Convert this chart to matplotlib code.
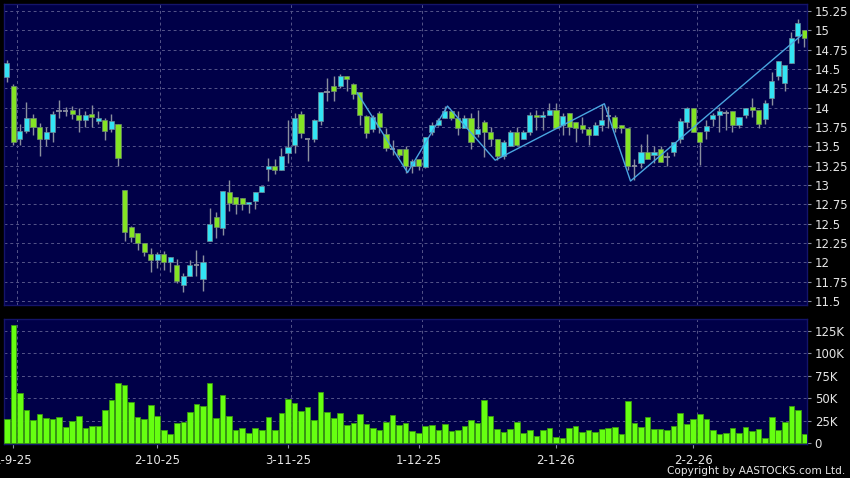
import numpy as np
import matplotlib
matplotlib.use("Agg")
import matplotlib.pyplot as plt

# daily OHLC, one entry per trading day (index 0 = 29-8-25)
opens = [14.40, 14.28, 13.59, 13.70, 13.86, 13.75, 13.60, 13.68, 13.96, 13.96,
         13.97, 13.90, 13.84, 13.92, 13.83, 13.84, 13.72, 13.79, 12.94, 12.46,
         12.38, 12.25, 12.11, 12.03, 12.11, 12.00, 11.97, 11.71, 11.82, 11.96,
         11.78, 12.27, 12.59, 12.44, 12.91, 12.84, 12.83, 12.75, 12.79, 12.91,
         13.21, 13.25, 13.19, 13.41, 13.52, 13.92, 13.60, 13.59, 13.83, 14.20,
         14.28, 14.28, 14.41, 14.31, 14.20, 13.89, 13.72, 13.93, 13.66, 13.47,
         13.47, 13.47, 13.25, 13.33, 13.23, 13.69, 13.77, 13.87, 13.96, 13.87,
         13.74, 13.87, 13.66, 13.81, 13.68, 13.60, 13.38, 13.50, 13.69, 13.60,
         13.69, 13.91, 13.88, 13.91, 13.97, 13.77, 13.93, 13.82, 13.78, 13.72,
         13.65, 13.77, 13.89, 13.88, 13.78, 13.74, 13.24, 13.28, 13.42, 13.39,
         13.47, 13.36, 13.43, 13.60, 13.81, 13.99, 13.69, 13.70, 13.85, 13.91,
         13.93, 13.96, 13.78, 13.91, 14.01, 13.97, 13.85, 14.13, 14.41, 14.32,
         14.58, 14.92, 15.00]
highs = [14.62, 14.30, 13.79, 14.07, 13.92, 13.80, 13.75, 13.96, 14.10, 14.01,
         14.02, 14.00, 13.95, 14.03, 13.96, 13.87, 13.92, 13.79, 12.94, 12.47,
         12.38, 12.25, 12.19, 12.13, 12.14, 12.07, 12.04, 11.86, 12.03, 12.16,
         12.09, 12.70, 12.65, 12.92, 13.07, 12.84, 12.83, 12.78, 12.91, 12.99,
         13.35, 13.33, 13.48, 13.84, 13.93, 13.96, 13.60, 13.85, 14.20, 14.38,
         14.41, 14.44, 14.41, 14.32, 14.20, 13.91, 13.91, 13.96, 13.74, 13.58,
         13.47, 13.50, 13.33, 13.33, 13.62, 13.82, 13.87, 14.02, 13.96, 13.95,
         13.90, 13.93, 13.97, 13.84, 13.75, 13.60, 13.58, 13.71, 13.75, 13.71,
         13.94, 13.97, 13.95, 14.06, 14.06, 13.93, 13.93, 13.82, 13.88, 13.75,
         13.82, 14.05, 14.02, 13.91, 13.78, 13.74, 13.34, 13.53, 13.66, 13.50,
         13.50, 13.43, 13.56, 13.87, 14.01, 14.00, 13.69, 13.84, 13.93, 14.01,
         13.97, 13.96, 13.88, 14.00, 14.13, 13.97, 14.10, 14.46, 14.60, 14.55,
         14.98, 15.14, 15.00]
lows = [14.33, 13.51, 13.51, 13.67, 13.64, 13.38, 13.50, 13.56, 13.86, 13.89,
        13.85, 13.68, 13.75, 13.75, 13.79, 13.58, 13.69, 13.24, 12.28, 12.26,
        12.16, 12.08, 11.88, 11.93, 11.90, 11.88, 11.73, 11.61, 11.82, 11.82,
        11.63, 12.27, 12.32, 12.35, 12.66, 12.63, 12.68, 12.64, 12.69, 12.91,
        13.05, 13.14, 13.19, 13.29, 13.41, 13.61, 13.31, 13.56, 13.77, 14.09,
        14.09, 14.25, 14.22, 14.11, 13.78, 13.61, 13.69, 13.67, 13.44, 13.39,
        13.36, 13.16, 13.16, 13.19, 13.22, 13.65, 13.76, 13.87, 13.84, 13.65,
        13.74, 13.47, 13.62, 13.36, 13.50, 13.32, 13.34, 13.50, 13.50, 13.60,
        13.65, 13.71, 13.71, 13.91, 13.74, 13.65, 13.65, 13.55, 13.67, 13.52,
        13.65, 13.70, 13.73, 13.69, 13.67, 13.19, 13.06, 13.22, 13.34, 13.28,
        13.30, 13.24, 13.37, 13.54, 13.73, 13.69, 13.26, 13.60, 13.76, 13.69,
        13.71, 13.69, 13.73, 13.86, 13.88, 13.73, 13.79, 14.03, 14.36, 14.22,
        14.58, 14.83, 14.79]
closes = [14.58, 13.56, 13.70, 13.86, 13.75, 13.60, 13.68, 13.92, 13.96, 13.96,
          13.92, 13.84, 13.90, 13.88, 13.87, 13.70, 13.83, 13.35, 12.39, 12.33,
          12.25, 12.13, 12.03, 12.11, 12.00, 12.07, 11.76, 11.82, 11.97, 11.96,
          12.00, 12.50, 12.46, 12.92, 12.77, 12.75, 12.75, 12.78, 12.91, 12.99,
          13.25, 13.19, 13.38, 13.49, 13.87, 13.67, 13.60, 13.84, 14.20, 14.20,
          14.22, 14.41, 14.37, 14.17, 13.91, 13.67, 13.88, 13.75, 13.48, 13.47,
          13.39, 13.25, 13.31, 13.25, 13.62, 13.77, 13.84, 13.95, 13.87, 13.74,
          13.87, 13.56, 13.72, 13.68, 13.60, 13.38, 13.56, 13.69, 13.52, 13.69,
          13.91, 13.88, 13.91, 13.97, 13.74, 13.89, 13.75, 13.73, 13.72, 13.65,
          13.77, 13.84, 13.89, 13.73, 13.73, 13.25, 13.24, 13.42, 13.34, 13.43,
          13.30, 13.36, 13.56, 13.83, 13.99, 13.69, 13.56, 13.76, 13.91, 13.96,
          13.93, 13.78, 13.88, 14.00, 13.97, 13.79, 14.06, 14.35, 14.60, 14.55,
          14.90, 15.09, 14.90]
# volume in thousands of shares
volumes = [27.1, 131.7, 56.0, 37.5, 25.6, 32.6, 28.6, 27.5, 29.3, 18.2,
           25.2, 30.0, 16.7, 19.3, 19.3, 37.1, 48.2, 67.2, 64.9, 46.4,
           29.7, 26.7, 42.3, 30.4, 14.8, 10.8, 22.3, 24.1, 35.2, 43.8,
           41.9, 67.2, 28.2, 53.8, 30.4, 14.5, 16.7, 11.9, 17.1, 14.8,
           29.7, 15.2, 33.8, 49.7, 44.5, 36.4, 40.4, 26.3, 56.8, 34.9,
           27.8, 33.4, 20.0, 22.6, 32.6, 21.9, 17.1, 14.8, 24.1, 31.5,
           20.4, 22.3, 14.1, 11.5, 19.7, 20.4, 14.8, 21.5, 14.1, 14.8,
           18.9, 25.6, 22.3, 48.2, 30.4, 15.6, 12.2, 16.0, 23.7, 11.9,
           14.8, 8.2, 14.8, 16.7, 7.0, 5.6, 17.4, 19.3, 12.6, 14.5,
           12.2, 16.0, 17.1, 18.2, 10.4, 47.5, 23.0, 18.6, 29.3, 16.0,
           16.0, 14.5, 19.3, 33.8, 21.5, 26.7, 33.0, 27.1, 14.8, 10.8,
           11.9, 16.7, 11.9, 18.6, 13.7, 16.3, 5.6, 28.9, 14.8, 23.4,
           41.6, 37.1, 10.4]

# zigzag line turning points (bar position, price)
zz_idx = [53.6, 61.3, 67.4, 74.7, 91.4, 95.4, 121.6]
zz_val = [14.19, 13.16, 14.02, 13.32, 14.05, 13.05, 14.94]

date_idx = [1, 23, 43, 63, 84, 105]
date_labels = ["1-9-25", "2-10-25", "3-11-25", "1-12-25", "2-1-26", "2-2-26"]
price_ticks = [11.5, 11.75, 12, 12.25, 12.5, 12.75, 13, 13.25, 13.5, 13.75,
               14, 14.25, 14.5, 14.75, 15, 15.25]
vol_ticks = [0, 25, 50, 75, 100, 125]
vol_labels = ["0", "25K", "50K", "75K", "100K", "125K"]

navy = "#000048"
grid_col = "#55558a"
txt_col = "#e6e6e6"
up_col = "#33e4f4"
down_col = "#84e424"
wick_col = "#8a8f9e"

o = np.array(opens)
h = np.array(highs)
l = np.array(lows)
c = np.array(closes)
x = np.arange(len(o))

fig = plt.figure(figsize=(8.5, 4.78), dpi=100, facecolor="black")
ax = fig.add_axes([4 / 850, 1 - 305 / 478, 803 / 850, 301 / 478])
axv = fig.add_axes([4 / 850, 1 - 444 / 478, 803 / 850, 125 / 478])

for a in (ax, axv):
    a.set_facecolor(navy)
    a.set_xlim(-0.44, 122.4)
    for s in a.spines.values():
        s.set_color("#14146a")
        s.set_linewidth(1)
    a.yaxis.tick_right()
    a.tick_params(axis="y", colors=wick_col, labelcolor=txt_col, labelsize=8.5,
                  length=3, pad=2.5, width=0.8)
    for d in date_idx:
        a.axvline(d + 0.5, color=grid_col, lw=0.7, ls=(0, (3, 3)), zorder=0)

# price panel
for p in price_ticks:
    ax.axhline(p, color=grid_col, lw=0.7, ls=(0, (3, 3)), zorder=0)
ax.set_ylim(11.447, 15.34)
ax.set_yticks(price_ticks)
ax.set_yticklabels([f"{p:g}" for p in price_ticks])
ax.set_xticks([])

ax.vlines(x, l, h, color=wick_col, lw=1, zorder=2)
up = c > o
down = c < o
flat = c == o
ax.bar(x[up], (c - o)[up], bottom=o[up], width=0.78, color=up_col,
       edgecolor="#6f8a96", linewidth=0.5, zorder=3)
ax.bar(x[down], (o - c)[down], bottom=c[down], width=0.78, color=down_col,
       edgecolor="#6f8a70", linewidth=0.5, zorder=3)
ax.hlines(o[flat], x[flat] - 0.42, x[flat] + 0.42, color=wick_col, lw=1.3, zorder=3)
ax.plot(zz_idx, zz_val, color="#4aa6e0", lw=1, zorder=4)

# volume panel
for v in vol_ticks[1:]:
    axv.axhline(v, color=grid_col, lw=0.7, ls=(0, (3, 3)), zorder=0)
axv.bar(x, volumes, width=0.86, color="#66ff11", edgecolor="#3a9a10",
        linewidth=0.6, zorder=3)
axv.set_ylim(-0.8, 138.4)
axv.set_yticks(vol_ticks)
axv.set_yticklabels(vol_labels)
axv.set_xticks(date_idx)
axv.set_xticklabels(date_labels)
axv.tick_params(axis="x", colors=wick_col, labelcolor=txt_col, labelsize=8.5,
                length=3, pad=4, width=0.8)

fig.text(845 / 850, 1 - 471 / 478, "Copyright by AASTOCKS.com Ltd.", color=txt_col,
         fontsize=7.6, ha="right", va="center")

fig.savefig("out.png", dpi=100, facecolor="black")
